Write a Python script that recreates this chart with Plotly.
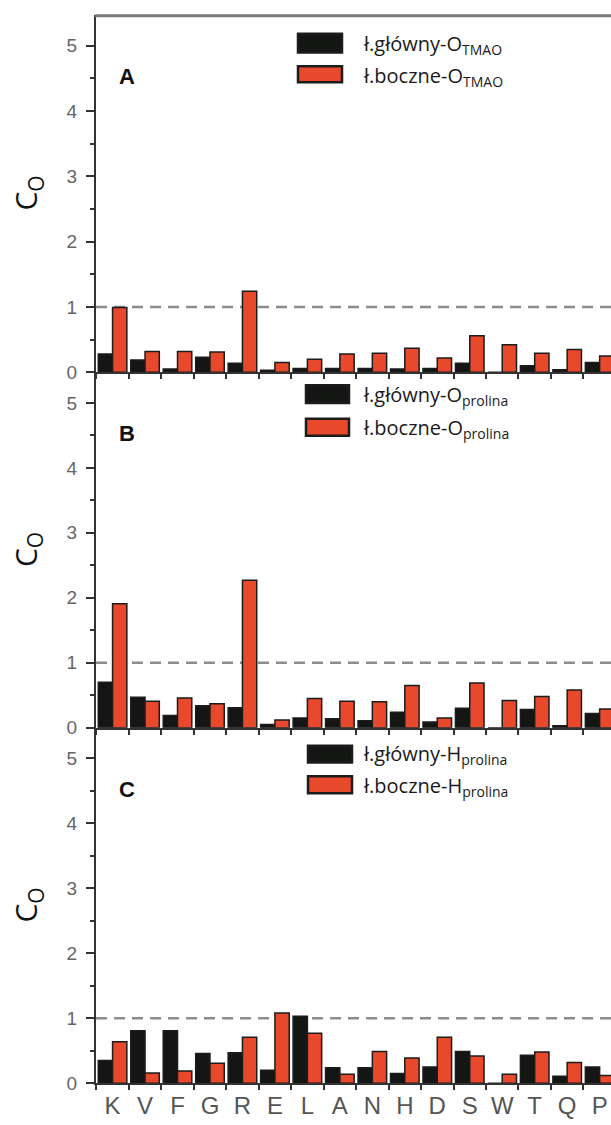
import plotly.graph_objects as go
from plotly.subplots import make_subplots

categories = ["K", "V", "F", "G", "R", "E", "L", "A", "N", "H", "D", "S", "W", "T", "Q", "P"]

# Panel A: O_TMAO
a_main = [0.28, 0.19, 0.05, 0.23, 0.14, 0.03, 0.06, 0.06, 0.06, 0.05, 0.06, 0.14, 0.0, 0.10, 0.04, 0.15]
a_side = [0.99, 0.32, 0.32, 0.31, 1.24, 0.15, 0.20, 0.28, 0.29, 0.37, 0.22, 0.56, 0.42, 0.29, 0.35, 0.25]
# Panel B: O_prolina
b_main = [0.70, 0.47, 0.19, 0.34, 0.31, 0.05, 0.15, 0.14, 0.11, 0.24, 0.09, 0.30, 0.0, 0.28, 0.03, 0.22]
b_side = [1.91, 0.41, 0.46, 0.37, 2.27, 0.12, 0.45, 0.41, 0.40, 0.65, 0.15, 0.69, 0.42, 0.48, 0.58, 0.29]
# Panel C: H_prolina
c_main = [0.35, 0.81, 0.81, 0.46, 0.47, 0.20, 1.03, 0.24, 0.24, 0.15, 0.25, 0.49, 0.0, 0.43, 0.11, 0.25]
c_side = [0.64, 0.16, 0.19, 0.31, 0.71, 1.08, 0.77, 0.14, 0.49, 0.39, 0.71, 0.42, 0.14, 0.48, 0.32, 0.12]

panel_labels = ["A", "B", "C"]
legend_main = ["ł.główny-O<sub>TMAO</sub>", "ł.główny-O<sub>prolina</sub>", "ł.główny-H<sub>prolina</sub>"]
legend_side = ["ł.boczne-O<sub>TMAO</sub>", "ł.boczne-O<sub>prolina</sub>", "ł.boczne-H<sub>prolina</sub>"]
y_title = "C<sub>O</sub>"
ref_value = 1

W, H = 611, 1125
BLACK = "#131613"
RED = "#e8482b"
EDGE = "#1c1c1c"
AX = "#333333"


def px(x):
    return x / W


def py(y):
    return 1 - y / H


fig = make_subplots(rows=3, cols=1, shared_xaxes=True, vertical_spacing=0)

data = [(a_main, a_side), (b_main, b_side), (c_main, c_side)]
for i, (m, s) in enumerate(data):
    fig.add_trace(go.Bar(x=categories, y=m, name=legend_main[i], showlegend=False,
                         marker=dict(color=BLACK, line=dict(color=EDGE, width=1.5))), row=i + 1, col=1)
    fig.add_trace(go.Bar(x=categories, y=s, name=legend_side[i], showlegend=False,
                         marker=dict(color=RED, line=dict(color=EDGE, width=1.5))), row=i + 1, col=1)

# pixel layout of the panels
panel_px = [(15, 376), (376, 735), (735, 1094)]
x_dom = [px(96), 1.0]

for i, (top, bot) in enumerate(panel_px):
    n = i + 1
    fig.update_yaxes(row=n, col=1, domain=[py(bot), py(top)], range=[0, 5.47],
                     tick0=0, dtick=1, ticks="outside", ticklen=8, tickwidth=1.5, tickcolor=AX,
                     minor=dict(dtick=0.5, ticks="outside", ticklen=4, tickwidth=1.5, tickcolor=AX),
                     showline=True, linecolor=AX, linewidth=2, zeroline=False, showgrid=False,
                     ticklabelstandoff=5,
                     tickfont=dict(family="Liberation Sans, Arial", size=19, color="#666666"))
    fig.update_xaxes(row=n, col=1, domain=x_dom, range=[-0.51, 15.35],
                     tickson="boundaries", ticks="outside", ticklen=5, tickwidth=1.5, tickcolor=AX,
                     tickangle=0,
                     showline=True, linecolor=AX, linewidth=2, showgrid=False, zeroline=False,
                     tickfont=dict(family="Liberation Sans, Arial", size=24, color="#555555"))
    yref = "y" if n == 1 else f"y{n}"
    xref = "x" if n == 1 else f"x{n}"
    # reference dashed line at C_O = 1
    fig.add_shape(type="line", xref=f"{xref} domain", yref=yref, x0=0, x1=1, y0=ref_value, y1=ref_value,
                  line=dict(color="#8c8c8c", width=2.5, dash="11px,7px"), layer="below")
    # y title
    fig.add_annotation(xref="paper", yref="paper", x=px(27), y=py((top + bot) / 2),
                       text=y_title, textangle=-90, showarrow=False,
                       xanchor="center", yanchor="middle",
                       font=dict(family="Open Sans", size=30, color="#111111"))
    # panel label
    fig.add_annotation(xref="paper", yref="paper", x=px(127), y=py(top + 62),
                       text=f"<b>{panel_labels[i]}</b>", showarrow=False,
                       xanchor="center", yanchor="middle",
                       font=dict(family="Liberation Sans, Arial", size=22, color="#111111"))

# legends drawn as swatches + text
leg_rows = [((298, 342, 34, 53), (298, 342, 67, 83), 45, 77),
            ((306, 349, 389, 407), (306, 349, 423, 440), 399, 433),
            ((308, 352, 753, 770), (308, 352, 784, 801), 762, 794)]
for i, (sw1, sw2, t1, t2) in enumerate(leg_rows):
    for sw, col in ((sw1, BLACK), (sw2, RED)):
        fig.add_shape(type="rect", xref="paper", yref="paper",
                      x0=px(sw[0]), x1=px(sw[1]), y0=py(sw[3]), y1=py(sw[2]),
                      fillcolor=col, line=dict(color=EDGE, width=2.5))
    for t, txt in ((t1, legend_main[i]), (t2, legend_side[i])):
        fig.add_annotation(xref="paper", yref="paper", x=px(361), y=py(t),
                           text=txt, showarrow=False, xanchor="left", yanchor="middle",
                           font=dict(family="Open Sans", size=20, color="#1a1a1a"))

# top border of the frame
fig.add_shape(type="line", xref="paper", yref="paper", x0=px(95), x1=1, y0=py(16), y1=py(16),
              line=dict(color="#7a7a7a", width=3))

fig.update_layout(width=W, height=H, margin=dict(l=0, r=0, t=0, b=0),
                  barmode="group", bargap=0.12, bargroupgap=0,
                  plot_bgcolor="#ffffff", paper_bgcolor="#ffffff", showlegend=False)

fig.write_html("out.html", config={"displayModeBar": False},
               post_script="document.body.style.margin='0px';")
